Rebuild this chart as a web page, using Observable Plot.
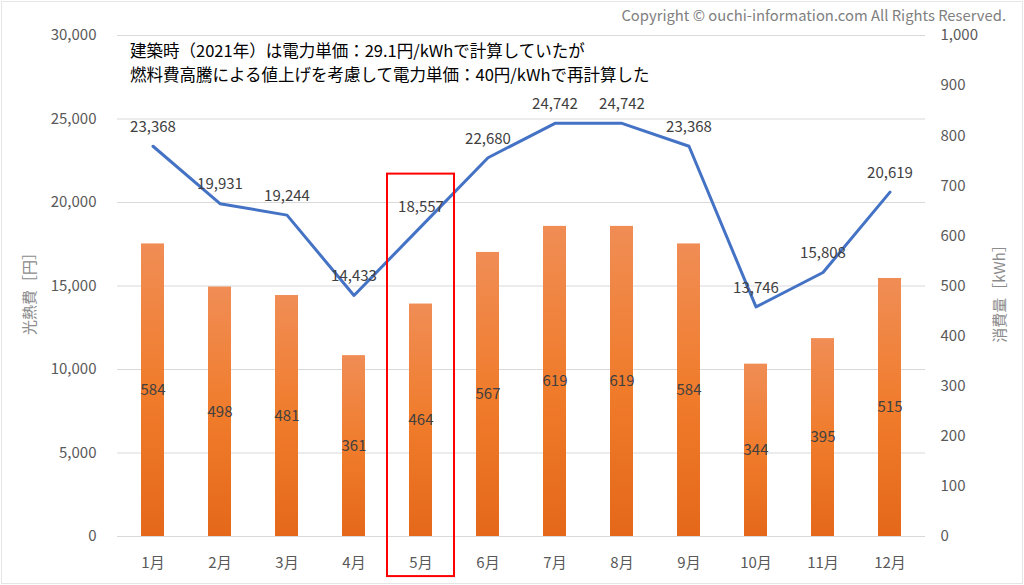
<!DOCTYPE html>
<html>
<head>
<meta charset="utf-8">
<script src="https://cdn.jsdelivr.net/npm/d3@7"></script>
<script src="https://cdn.jsdelivr.net/npm/@observablehq/plot@0.6"></script>
<style>
  html, body { margin: 0; padding: 0; background: #fff; }
  #wrap { position: relative; width: 1024px; height: 585px; overflow: hidden; }
  #frame { position: absolute; left: 1px; top: 1px; width: 1020px; height: 581px; border: 1px solid #e6e6e6; pointer-events: none; }
  svg { font-family: "Noto Sans CJK JP", "Noto Sans", sans-serif; }
</style>
</head>
<body>
<div id="wrap"><div id="frame"></div></div>
<script>
const months = ["1月","2月","3月","4月","5月","6月","7月","8月","9月","10月","11月","12月"];
const kwh = [584, 498, 481, 361, 464, 567, 619, 619, 584, 344, 395, 515];
const yen = [23368, 19931, 19244, 14433, 18557, 22680, 24742, 24742, 23368, 13746, 15808, 20619];
const yenTicks = [0, 5000, 10000, 15000, 20000, 25000, 30000];
const kwhTicks = [0, 100, 200, 300, 400, 500, 600, 700, 800, 900, 1000];
const highlight = ["5月"];
const highlightRange = [-2400, 21700];
const noteLines = ["建築時（2021年）は電力単価：29.1円/kWhで計算していたが", "燃料費高騰による値上げを考慮して電力単価：40円/kWhで再計算した"];
const copyright = "Copyright © ouchi-information.com All Rights Reserved.";
const yenLabel = "光熱費［円］";
const kwhLabel = "消費量［kWh］";

const ratio = 30000 / 1000; // right axis kWh -> left axis yen
const rows = months.map((m, i) => ({month: m, kwh: kwh[i], yen: yen[i], kwhScaled: kwh[i] * ratio}));
const hl = highlight.map(m => ({month: m, y1: highlightRange[0], y2: highlightRange[1]}));

const fmt = d3.format(",");
const gray = "#595959";

const chart = Plot.plot({
  width: 1024,
  height: 585,
  marginLeft: 117,
  marginRight: 99,
  marginTop: 35,
  marginBottom: 49,
  style: {fontSize: "15px", color: gray, background: "transparent", overflow: "visible"},
  x: {domain: months, paddingInner: 0.66, paddingOuter: 0.33, label: null},
  y: {domain: [0, 30000], label: null},
  marks: [
    () => {
      const defs = d3.create("svg:defs");
      const g = defs.append("linearGradient").attr("id", "barGrad").attr("x1", 0).attr("y1", 0).attr("x2", 0).attr("y2", 1);
      g.append("stop").attr("offset", "0%").attr("stop-color", "#F08D55");
      g.append("stop").attr("offset", "50%").attr("stop-color", "#F07C2C");
      g.append("stop").attr("offset", "100%").attr("stop-color", "#E5681A");
      const f = defs.append("filter").attr("id", "shadow").attr("x", "-20%").attr("y", "-20%").attr("width", "140%").attr("height", "140%");
      f.append("feDropShadow").attr("dx", 1).attr("dy", 1.5).attr("stdDeviation", 1.2).attr("flood-color", "#000").attr("flood-opacity", 0.3);
      return defs.node();
    },
    Plot.gridY(yenTicks, {stroke: "#d9d9d9", strokeOpacity: 1, strokeWidth: 1}),
    Plot.axisY(yenTicks, {anchor: "left", tickSize: 0, tickPadding: 21, tickFormat: fmt, fill: gray, fontSize: 15, label: null}),
    Plot.axisY(kwhTicks.map(v => v * ratio), {anchor: "right", tickSize: 0, tickPadding: 15, tickFormat: d => fmt(Math.round(d / ratio)), fill: gray, fontSize: 15, label: null}),
    Plot.axisX({tickSize: 0, tickPadding: 21, fill: gray, fontSize: 15, label: null}),
    Plot.barY(rows, {x: "month", y: "kwhScaled", fill: "url(#barGrad)", style: {filter: "url(#shadow)"}}),
    Plot.text(rows, {x: "month", y: d => d.kwhScaled / 2, text: d => String(d.kwh), fill: "#404040", fontSize: 15}),
    Plot.line(rows, {x: "month", y: "yen", stroke: "#4472C4", strokeWidth: 3, strokeLinejoin: "round", style: {filter: "url(#shadow)"}}),
    Plot.text(rows, {x: "month", y: "yen", text: d => fmt(d.yen), dy: -19, fill: "#404040", fontSize: 15}),
    Plot.barY(hl, {x: "month", y1: "y1", y2: "y2", fill: "none", stroke: "#FF0000", strokeWidth: 2, insetLeft: -22, insetRight: -22, clip: false})
  ]
});

const svg = d3.select(chart);
svg.attr("style", null).style("overflow", "visible").style("display", "block");

// annotation note lines
noteLines.forEach((t, i) => {
  svg.append("text").attr("x", 130).attr("y", 51 + i * 24).attr("dy", "0.35em").attr("text-anchor", "start")
    .attr("fill", "#000").attr("font-size", 16.5).text(t);
});
svg.append("text").attr("x", 1006).attr("y", 16).attr("dy", "0.35em").attr("text-anchor", "end")
  .attr("fill", "#7f7f7f").attr("font-size", 14.8).text(copyright);
svg.append("text").attr("transform", "translate(30,290) rotate(-90)").attr("text-anchor", "middle").attr("dy", "0.35em")
  .attr("fill", "#8c8c8c").attr("font-size", 15).text(yenLabel);
svg.append("text").attr("transform", "translate(1000,290) rotate(-90)").attr("text-anchor", "middle").attr("dy", "0.35em")
  .attr("fill", "#8c8c8c").attr("font-size", 15).text(kwhLabel);

document.getElementById("wrap").insertBefore(chart, document.getElementById("frame"));
</script>
</body>
</html>
